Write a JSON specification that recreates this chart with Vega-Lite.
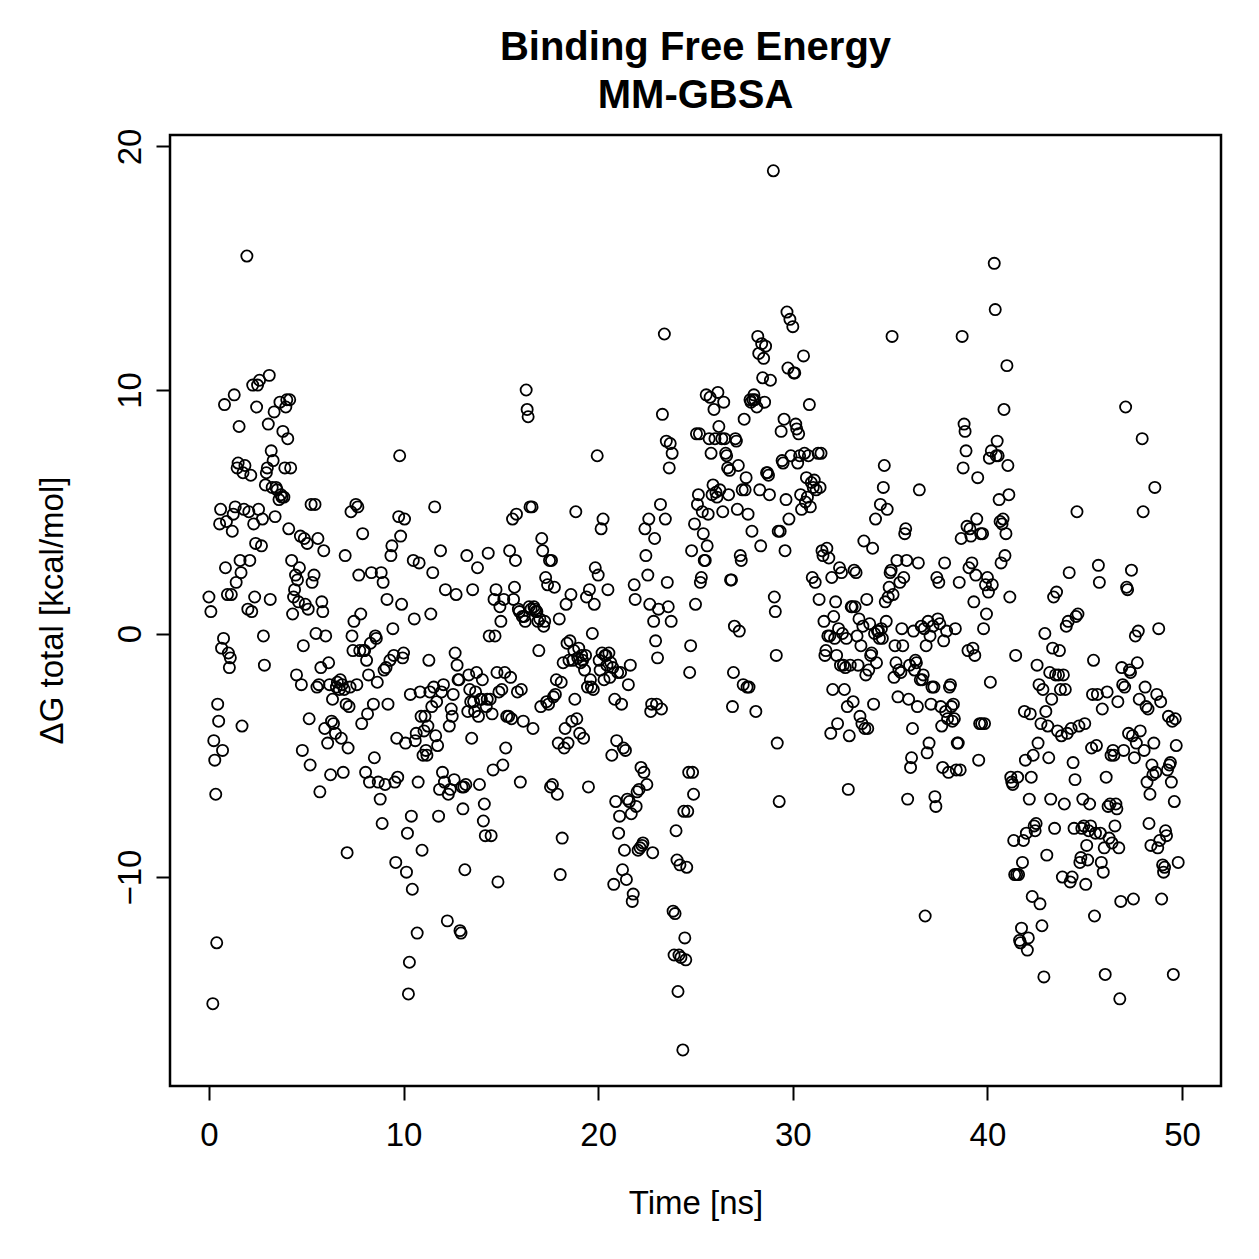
{
"$schema":"https://vega.github.io/schema/vega-lite/v6.json",
"width":1051,"height":951,
"autosize":{"type":"none"},
"padding":{"left":170,"top":135,"right":38,"bottom":173},
"background":"white",
"title":{"text":["Binding Free Energy","MM-GBSA"],"fontSize":40,"fontWeight":"bold","font":"Liberation Sans","color":"black","anchor":"middle","lineHeight":48,"offset":12},
"config":{"view":{"stroke":"black","strokeWidth":2.5},
"axis":{"domain":false,"grid":false,"tickColor":"black","tickWidth":2,"tickSize":14,"labelFont":"Liberation Sans","labelFontSize":33,"labelColor":"black","titleFont":"Liberation Sans","titleFontSize":33,"titleFontWeight":"normal","titleColor":"black"}},
"data":{"values":[
{"t":0.0,"g":1.5},{"t":0.1,"g":0.9},{"t":0.2,"g":-15.2},{"t":0.25,"g":-4.4},{"t":0.3,"g":-5.2},{"t":0.35,"g":-6.6},{"t":0.4,"g":-12.7},{"t":0.45,"g":-2.9},{"t":0.5,"g":-3.6},{"t":0.55,"g":4.5},{"t":0.6,"g":5.1},{"t":0.65,"g":-0.6},{"t":0.7,"g":-4.8},{"t":0.75,"g":-0.2},{"t":0.8,"g":9.4},{"t":0.85,"g":2.7},{"t":0.9,"g":4.6},{"t":0.95,"g":1.6},{"t":1.0,"g":-0.8},{"t":1.05,"g":-1.4},{"t":1.1,"g":-1.0},{"t":1.15,"g":1.6},{"t":1.2,"g":4.2},{"t":1.25,"g":4.9},{"t":1.3,"g":9.8},{"t":1.35,"g":5.2},{"t":1.4,"g":2.1},{"t":1.45,"g":6.8},{"t":1.5,"g":7.0},{"t":1.55,"g":8.5},{"t":1.6,"g":3.0},{"t":1.65,"g":2.5},{"t":1.7,"g":-3.8},{"t":1.75,"g":6.6},{"t":1.8,"g":5.1},{"t":1.85,"g":6.9},{"t":1.95,"g":15.5},{"t":2.0,"g":1.0},{"t":2.05,"g":5.0},{"t":2.1,"g":3.0},{"t":2.15,"g":6.5},{"t":2.2,"g":0.9},{"t":2.25,"g":10.2},{"t":2.3,"g":4.5},{"t":2.35,"g":1.5},{"t":2.4,"g":3.7},{"t":2.45,"g":9.3},{"t":2.5,"g":10.2},{"t":2.55,"g":5.1},{"t":2.6,"g":10.4},{"t":2.7,"g":3.6},{"t":2.75,"g":4.7},{"t":2.8,"g":-0.1},{"t":2.85,"g":-1.3},{"t":2.9,"g":6.1},{"t":2.95,"g":6.6},{"t":3.0,"g":6.8},{"t":3.05,"g":8.6},{"t":3.1,"g":10.6},{"t":3.15,"g":1.4},{"t":3.2,"g":7.5},{"t":3.25,"g":6.0},{"t":3.3,"g":7.1},{"t":3.35,"g":9.1},{"t":3.4,"g":4.8},{"t":3.45,"g":6.0},{"t":3.5,"g":5.9},{"t":3.6,"g":5.5},{"t":3.65,"g":9.5},{"t":3.7,"g":5.7},{"t":3.75,"g":5.6},{"t":3.8,"g":8.3},{"t":3.85,"g":5.6},{"t":3.9,"g":6.8},{"t":3.95,"g":9.3},{"t":4.0,"g":9.6},{"t":4.05,"g":8.0},{"t":4.1,"g":4.3},{"t":4.15,"g":9.6},{"t":4.2,"g":6.8},{"t":4.25,"g":3.0},{"t":4.3,"g":0.8},{"t":4.35,"g":1.5},{"t":4.4,"g":1.8},{"t":4.45,"g":2.4},{"t":4.5,"g":-1.7},{"t":4.55,"g":2.2},{"t":4.6,"g":1.3},{"t":4.65,"g":2.7},{"t":4.7,"g":4.0},{"t":4.75,"g":-2.1},{"t":4.8,"g":-4.8},{"t":4.85,"g":-0.5},{"t":4.9,"g":3.9},{"t":4.95,"g":1.2},{"t":5.05,"g":3.7},{"t":5.1,"g":1.0},{"t":5.15,"g":-3.5},{"t":5.2,"g":-5.4},{"t":5.25,"g":5.3},{"t":5.3,"g":2.1},{"t":5.4,"g":2.4},{"t":5.45,"g":5.3},{"t":5.5,"g":0.0},{"t":5.55,"g":-2.2},{"t":5.6,"g":3.9},{"t":5.65,"g":-2.1},{"t":5.7,"g":-6.5},{"t":5.75,"g":-1.4},{"t":5.8,"g":1.3},{"t":5.85,"g":0.9},{"t":5.9,"g":3.4},{"t":5.95,"g":-3.9},{"t":6.0,"g":-0.1},{"t":6.1,"g":-4.5},{"t":6.15,"g":-1.2},{"t":6.2,"g":-2.1},{"t":6.25,"g":-5.8},{"t":6.3,"g":-3.6},{"t":6.35,"g":-2.7},{"t":6.4,"g":-3.7},{"t":6.5,"g":-4.1},{"t":6.55,"g":-2.2},{"t":6.6,"g":-2.0},{"t":6.7,"g":-2.3},{"t":6.75,"g":-1.9},{"t":6.8,"g":-4.3},{"t":6.85,"g":-2.1},{"t":6.9,"g":-5.7},{"t":6.95,"g":-2.3},{"t":7.0,"g":3.2},{"t":7.05,"g":-2.9},{"t":7.1,"g":-9.0},{"t":7.15,"g":-4.7},{"t":7.2,"g":-3.0},{"t":7.25,"g":-2.2},{"t":7.3,"g":5.0},{"t":7.35,"g":-0.1},{"t":7.4,"g":-0.7},{"t":7.45,"g":0.5},{"t":7.55,"g":5.3},{"t":7.6,"g":-2.1},{"t":7.65,"g":5.2},{"t":7.7,"g":2.4},{"t":7.75,"g":-0.7},{"t":7.8,"g":0.8},{"t":7.85,"g":-3.7},{"t":7.9,"g":4.1},{"t":7.95,"g":-0.7},{"t":8.0,"g":-0.7},{"t":8.05,"g":-5.7},{"t":8.1,"g":-1.1},{"t":8.15,"g":-3.3},{"t":8.2,"g":-1.7},{"t":8.25,"g":-6.1},{"t":8.3,"g":-0.4},{"t":8.35,"g":2.5},{"t":8.45,"g":-2.9},{"t":8.5,"g":-5.1},{"t":8.55,"g":-0.1},{"t":8.6,"g":-0.2},{"t":8.65,"g":-2.0},{"t":8.7,"g":-6.1},{"t":8.8,"g":-6.8},{"t":8.85,"g":2.5},{"t":8.9,"g":-7.8},{"t":8.95,"g":2.1},{"t":9.0,"g":-1.5},{"t":9.05,"g":-6.2},{"t":9.1,"g":-1.4},{"t":9.15,"g":1.4},{"t":9.2,"g":-2.9},{"t":9.3,"g":-1.1},{"t":9.35,"g":3.2},{"t":9.4,"g":3.6},{"t":9.45,"g":0.2},{"t":9.5,"g":-0.9},{"t":9.55,"g":-6.1},{"t":9.6,"g":-9.4},{"t":9.65,"g":-4.3},{"t":9.7,"g":-5.9},{"t":9.75,"g":4.8},{"t":9.8,"g":7.3},{"t":9.85,"g":4.0},{"t":9.9,"g":1.2},{"t":9.95,"g":-1.0},{"t":10.0,"g":-0.8},{"t":10.05,"g":4.7},{"t":10.1,"g":-4.5},{"t":10.15,"g":-9.8},{"t":10.2,"g":-8.2},{"t":10.25,"g":-14.8},{"t":10.3,"g":-13.5},{"t":10.35,"g":-2.5},{"t":10.4,"g":-7.5},{"t":10.45,"g":-10.5},{"t":10.5,"g":3.0},{"t":10.55,"g":0.6},{"t":10.6,"g":-4.4},{"t":10.65,"g":-4.1},{"t":10.7,"g":-12.3},{"t":10.75,"g":-6.1},{"t":10.8,"g":2.9},{"t":10.85,"g":-2.4},{"t":10.9,"g":-3.4},{"t":10.95,"g":-8.9},{"t":11.0,"g":-5.0},{"t":11.05,"g":-4.0},{"t":11.1,"g":-3.4},{"t":11.15,"g":-4.8},{"t":11.2,"g":-5.0},{"t":11.25,"g":-3.8},{"t":11.3,"g":-1.1},{"t":11.35,"g":-2.4},{"t":11.4,"g":0.8},{"t":11.45,"g":-3.0},{"t":11.5,"g":2.5},{"t":11.55,"g":-2.2},{"t":11.6,"g":5.2},{"t":11.65,"g":-4.2},{"t":11.7,"g":-2.8},{"t":11.75,"g":-4.6},{"t":11.8,"g":-7.5},{"t":11.85,"g":-6.4},{"t":11.9,"g":3.4},{"t":11.95,"g":-2.4},{"t":12.0,"g":-5.7},{"t":12.05,"g":-2.1},{"t":12.1,"g":-6.1},{"t":12.15,"g":1.8},{"t":12.25,"g":-11.8},{"t":12.3,"g":-6.6},{"t":12.35,"g":-3.8},{"t":12.4,"g":-6.4},{"t":12.45,"g":-3.1},{"t":12.5,"g":-3.4},{"t":12.55,"g":-2.5},{"t":12.6,"g":-6.0},{"t":12.65,"g":-0.8},{"t":12.7,"g":1.6},{"t":12.75,"g":-1.3},{"t":12.8,"g":-1.9},{"t":12.85,"g":-1.9},{"t":12.9,"g":-12.2},{"t":12.95,"g":-12.3},{"t":13.0,"g":-6.3},{"t":13.05,"g":-7.2},{"t":13.1,"g":-6.3},{"t":13.15,"g":-9.7},{"t":13.2,"g":-6.2},{"t":13.25,"g":3.2},{"t":13.3,"g":-3.2},{"t":13.35,"g":-1.7},{"t":13.4,"g":-2.3},{"t":13.45,"g":-2.8},{"t":13.5,"g":-4.3},{"t":13.55,"g":1.8},{"t":13.6,"g":-2.8},{"t":13.65,"g":-3.2},{"t":13.7,"g":-2.4},{"t":13.75,"g":-1.6},{"t":13.8,"g":2.7},{"t":13.85,"g":-3.4},{"t":13.9,"g":-6.2},{"t":13.95,"g":-2.7},{"t":14.0,"g":-2.7},{"t":14.05,"g":-1.9},{"t":14.1,"g":-7.7},{"t":14.15,"g":-7.0},{"t":14.2,"g":-8.3},{"t":14.25,"g":-3.0},{"t":14.3,"g":-2.7},{"t":14.35,"g":3.3},{"t":14.4,"g":-0.1},{"t":14.45,"g":-2.7},{"t":14.5,"g":-8.3},{"t":14.55,"g":-3.3},{"t":14.6,"g":-5.6},{"t":14.65,"g":1.4},{"t":14.7,"g":-0.1},{"t":14.75,"g":1.8},{"t":14.8,"g":-1.6},{"t":14.85,"g":-10.2},{"t":14.9,"g":-2.4},{"t":14.95,"g":1.1},{"t":15.0,"g":0.5},{"t":15.05,"g":-2.3},{"t":15.1,"g":-5.4},{"t":15.15,"g":1.4},{"t":15.2,"g":-1.6},{"t":15.25,"g":-4.7},{"t":15.3,"g":-3.4},{"t":15.4,"g":-3.4},{"t":15.45,"g":3.4},{"t":15.5,"g":-1.8},{"t":15.55,"g":-3.5},{"t":15.6,"g":4.7},{"t":15.65,"g":1.4},{"t":15.7,"g":1.9},{"t":15.75,"g":3.0},{"t":15.8,"g":4.9},{"t":15.85,"g":-2.4},{"t":15.9,"g":1.0},{"t":15.95,"g":0.9},{"t":16.0,"g":-6.1},{"t":16.05,"g":-2.3},{"t":16.1,"g":0.7},{"t":16.15,"g":-3.6},{"t":16.2,"g":0.7},{"t":16.25,"g":0.5},{"t":16.3,"g":10.0},{"t":16.35,"g":9.2},{"t":16.4,"g":8.9},{"t":16.45,"g":1.1},{"t":16.5,"g":5.2},{"t":16.55,"g":1.0},{"t":16.6,"g":5.2},{"t":16.65,"g":-3.9},{"t":16.7,"g":1.1},{"t":16.75,"g":1.0},{"t":16.8,"g":0.9},{"t":16.85,"g":0.9},{"t":16.9,"g":0.5},{"t":16.95,"g":-0.7},{"t":17.0,"g":0.6},{"t":17.05,"g":-3.0},{"t":17.1,"g":3.9},{"t":17.15,"g":3.4},{"t":17.2,"g":0.3},{"t":17.25,"g":0.5},{"t":17.3,"g":2.3},{"t":17.35,"g":-2.8},{"t":17.4,"g":2.0},{"t":17.45,"g":-2.9},{"t":17.5,"g":3.0},{"t":17.55,"g":-6.3},{"t":17.6,"g":3.0},{"t":17.65,"g":-6.2},{"t":17.7,"g":-2.6},{"t":17.75,"g":1.9},{"t":17.8,"g":-2.5},{"t":17.85,"g":-1.9},{"t":17.9,"g":-6.6},{"t":17.95,"g":-4.5},{"t":18.0,"g":0.6},{"t":18.05,"g":-9.9},{"t":18.1,"g":-2.0},{"t":18.15,"g":-8.4},{"t":18.2,"g":-1.2},{"t":18.25,"g":-4.7},{"t":18.3,"g":-3.9},{"t":18.35,"g":1.2},{"t":18.4,"g":-0.4},{"t":18.45,"g":-4.5},{"t":18.5,"g":-1.1},{"t":18.55,"g":-0.3},{"t":18.6,"g":1.6},{"t":18.65,"g":-3.6},{"t":18.7,"g":-1.1},{"t":18.75,"g":-0.7},{"t":18.8,"g":-2.7},{"t":18.85,"g":5.0},{"t":18.9,"g":-3.5},{"t":18.95,"g":-1.0},{"t":19.0,"g":-0.6},{"t":19.05,"g":-4.1},{"t":19.1,"g":-1.2},{"t":19.15,"g":-0.9},{"t":19.2,"g":-1.1},{"t":19.25,"g":-4.3},{"t":19.3,"g":-1.5},{"t":19.35,"g":-0.9},{"t":19.4,"g":1.5},{"t":19.45,"g":-2.2},{"t":19.5,"g":-6.3},{"t":19.55,"g":1.8},{"t":19.6,"g":-1.9},{"t":19.65,"g":-2.2},{"t":19.7,"g":0.0},{"t":19.75,"g":-2.3},{"t":19.8,"g":1.2},{"t":19.85,"g":2.7},{"t":19.95,"g":7.3},{"t":20.0,"g":2.4},{"t":20.05,"g":-1.1},{"t":20.1,"g":-1.5},{"t":20.15,"g":4.3},{"t":20.2,"g":-0.8},{"t":20.25,"g":4.7},{"t":20.3,"g":-1.9},{"t":20.35,"g":-0.9},{"t":20.4,"g":-0.9},{"t":20.45,"g":-1.3},{"t":20.5,"g":1.8},{"t":20.55,"g":-0.8},{"t":20.6,"g":-1.8},{"t":20.65,"g":-1.2},{"t":20.7,"g":-5.0},{"t":20.75,"g":-1.4},{"t":20.8,"g":-10.3},{"t":20.85,"g":-2.7},{"t":20.9,"g":-6.9},{"t":20.95,"g":-4.4},{"t":21.0,"g":-1.6},{"t":21.05,"g":-8.2},{"t":21.1,"g":-7.5},{"t":21.15,"g":-1.6},{"t":21.2,"g":-2.9},{"t":21.25,"g":-9.7},{"t":21.3,"g":-4.7},{"t":21.35,"g":-8.9},{"t":21.4,"g":-4.8},{"t":21.45,"g":-10.1},{"t":21.5,"g":-6.8},{"t":21.55,"g":-2.1},{"t":21.6,"g":-6.9},{"t":21.65,"g":-1.3},{"t":21.7,"g":-7.4},{"t":21.75,"g":-11.0},{"t":21.8,"g":-10.7},{"t":21.85,"g":2.0},{"t":21.9,"g":1.4},{"t":21.95,"g":-7.1},{"t":22.0,"g":-6.5},{"t":22.05,"g":-8.9},{"t":22.1,"g":-6.4},{"t":22.15,"g":-8.8},{"t":22.2,"g":-5.5},{"t":22.25,"g":-8.7},{"t":22.3,"g":-8.6},{"t":22.35,"g":-5.7},{"t":22.4,"g":4.3},{"t":22.45,"g":3.2},{"t":22.5,"g":-6.2},{"t":22.55,"g":2.4},{"t":22.6,"g":4.7},{"t":22.65,"g":1.2},{"t":22.7,"g":-3.2},{"t":22.75,"g":-2.9},{"t":22.8,"g":-9.0},{"t":22.85,"g":0.5},{"t":22.9,"g":3.9},{"t":22.95,"g":-0.3},{"t":23.0,"g":-2.9},{"t":23.05,"g":-1.0},{"t":23.1,"g":1.0},{"t":23.2,"g":5.3},{"t":23.25,"g":-3.1},{"t":23.3,"g":9.0},{"t":23.4,"g":12.3},{"t":23.45,"g":4.7},{"t":23.5,"g":7.9},{"t":23.55,"g":2.1},{"t":23.6,"g":1.1},{"t":23.65,"g":6.8},{"t":23.7,"g":7.8},{"t":23.75,"g":0.5},{"t":23.8,"g":7.4},{"t":23.85,"g":-11.4},{"t":23.9,"g":-13.2},{"t":23.95,"g":-11.5},{"t":24.0,"g":-8.1},{"t":24.05,"g":-9.3},{"t":24.1,"g":-14.7},{"t":24.15,"g":-13.2},{"t":24.2,"g":-9.5},{"t":24.25,"g":-13.3},{"t":24.35,"g":-17.1},{"t":24.4,"g":-7.3},{"t":24.45,"g":-12.5},{"t":24.5,"g":-13.4},{"t":24.55,"g":-9.6},{"t":24.6,"g":-7.3},{"t":24.65,"g":-5.7},{"t":24.7,"g":-1.6},{"t":24.75,"g":-0.5},{"t":24.8,"g":3.4},{"t":24.85,"g":-5.7},{"t":24.9,"g":-6.6},{"t":24.95,"g":4.5},{"t":25.0,"g":1.2},{"t":25.05,"g":8.2},{"t":25.1,"g":5.3},{"t":25.15,"g":5.7},{"t":25.2,"g":8.2},{"t":25.25,"g":2.1},{"t":25.3,"g":2.3},{"t":25.35,"g":5.0},{"t":25.4,"g":4.1},{"t":25.45,"g":3.0},{"t":25.5,"g":3.0},{"t":25.55,"g":9.8},{"t":25.6,"g":3.6},{"t":25.65,"g":4.9},{"t":25.7,"g":8.0},{"t":25.75,"g":9.7},{"t":25.8,"g":7.4},{"t":25.85,"g":5.7},{"t":25.9,"g":6.1},{"t":25.95,"g":9.2},{"t":26.0,"g":8.0},{"t":26.05,"g":5.8},{"t":26.1,"g":5.6},{"t":26.15,"g":9.9},{"t":26.2,"g":8.5},{"t":26.25,"g":5.9},{"t":26.35,"g":8.0},{"t":26.4,"g":5.0},{"t":26.45,"g":9.5},{"t":26.5,"g":8.0},{"t":26.55,"g":7.4},{"t":26.6,"g":7.3},{"t":26.65,"g":6.8},{"t":26.7,"g":5.7},{"t":26.75,"g":6.7},{"t":26.8,"g":2.2},{"t":26.85,"g":2.2},{"t":26.9,"g":-3.0},{"t":26.95,"g":-1.6},{"t":27.0,"g":0.3},{"t":27.05,"g":8.0},{"t":27.1,"g":7.9},{"t":27.15,"g":5.1},{"t":27.2,"g":6.9},{"t":27.25,"g":0.1},{"t":27.3,"g":3.2},{"t":27.35,"g":3.0},{"t":27.4,"g":5.9},{"t":27.45,"g":-2.1},{"t":27.5,"g":8.8},{"t":27.55,"g":5.9},{"t":27.6,"g":6.4},{"t":27.65,"g":-2.2},{"t":27.7,"g":4.9},{"t":27.75,"g":-2.2},{"t":27.8,"g":9.6},{"t":27.85,"g":9.5},{"t":27.9,"g":4.2},{"t":27.95,"g":9.6},{"t":28.0,"g":9.8},{"t":28.05,"g":9.6},{"t":28.1,"g":-3.2},{"t":28.15,"g":9.3},{"t":28.2,"g":12.2},{"t":28.25,"g":11.5},{"t":28.3,"g":5.9},{"t":28.35,"g":3.6},{"t":28.4,"g":11.9},{"t":28.45,"g":10.5},{"t":28.5,"g":11.3},{"t":28.55,"g":9.5},{"t":28.6,"g":11.8},{"t":28.65,"g":6.6},{"t":28.7,"g":6.6},{"t":28.75,"g":6.5},{"t":28.8,"g":5.7},{"t":28.85,"g":10.4},{"t":29.0,"g":19.0},{"t":29.05,"g":1.5},{"t":29.1,"g":0.9},{"t":29.15,"g":-0.9},{"t":29.2,"g":-4.5},{"t":29.25,"g":4.2},{"t":29.3,"g":-6.9},{"t":29.35,"g":4.2},{"t":29.4,"g":8.3},{"t":29.45,"g":7.1},{"t":29.5,"g":7.0},{"t":29.55,"g":8.8},{"t":29.6,"g":3.4},{"t":29.65,"g":5.5},{"t":29.7,"g":13.2},{"t":29.75,"g":10.9},{"t":29.8,"g":4.7},{"t":29.85,"g":12.9},{"t":29.9,"g":7.3},{"t":30.0,"g":12.6},{"t":30.05,"g":10.7},{"t":30.1,"g":10.7},{"t":30.15,"g":8.6},{"t":30.2,"g":8.4},{"t":30.25,"g":7.0},{"t":30.3,"g":8.2},{"t":30.35,"g":7.3},{"t":30.4,"g":5.7},{"t":30.45,"g":5.1},{"t":30.55,"g":11.4},{"t":30.6,"g":7.4},{"t":30.65,"g":5.4},{"t":30.7,"g":6.4},{"t":30.75,"g":5.6},{"t":30.8,"g":7.3},{"t":30.85,"g":9.4},{"t":30.9,"g":5.2},{"t":30.95,"g":6.2},{"t":31.0,"g":2.3},{"t":31.05,"g":6.0},{"t":31.1,"g":6.3},{"t":31.15,"g":2.1},{"t":31.2,"g":5.9},{"t":31.3,"g":7.4},{"t":31.35,"g":1.4},{"t":31.4,"g":6.0},{"t":31.45,"g":7.4},{"t":31.5,"g":3.4},{"t":31.55,"g":3.2},{"t":31.6,"g":0.5},{"t":31.65,"g":-0.9},{"t":31.7,"g":-0.7},{"t":31.75,"g":3.5},{"t":31.8,"g":-0.1},{"t":31.85,"g":3.1},{"t":31.9,"g":-0.1},{"t":31.95,"g":-4.1},{"t":32.0,"g":2.3},{"t":32.05,"g":-2.3},{"t":32.1,"g":0.7},{"t":32.15,"g":-0.2},{"t":32.2,"g":1.3},{"t":32.25,"g":-0.9},{"t":32.3,"g":-3.7},{"t":32.35,"g":0.2},{"t":32.4,"g":2.7},{"t":32.45,"g":-1.3},{"t":32.5,"g":2.5},{"t":32.55,"g":0.0},{"t":32.6,"g":-1.3},{"t":32.65,"g":-2.3},{"t":32.7,"g":-1.4},{"t":32.75,"g":-0.2},{"t":32.8,"g":-3.0},{"t":32.85,"g":-6.4},{"t":32.9,"g":-4.2},{"t":32.95,"g":-1.3},{"t":33.0,"g":1.1},{"t":33.05,"g":1.1},{"t":33.1,"g":-2.8},{"t":33.15,"g":2.6},{"t":33.2,"g":1.1},{"t":33.25,"g":2.5},{"t":33.3,"g":-0.1},{"t":33.35,"g":-1.3},{"t":33.4,"g":0.6},{"t":33.45,"g":-3.4},{"t":33.5,"g":-0.5},{"t":33.55,"g":-3.7},{"t":33.6,"g":0.3},{"t":33.65,"g":3.8},{"t":33.7,"g":-3.9},{"t":33.75,"g":-1.7},{"t":33.8,"g":1.4},{"t":33.85,"g":-3.9},{"t":33.9,"g":-1.5},{"t":33.95,"g":0.4},{"t":34.0,"g":-0.9},{"t":34.05,"g":-0.8},{"t":34.1,"g":3.5},{"t":34.15,"g":-2.9},{"t":34.2,"g":0.0},{"t":34.25,"g":4.7},{"t":34.3,"g":-1.2},{"t":34.35,"g":0.1},{"t":34.4,"g":0.1},{"t":34.45,"g":-0.2},{"t":34.5,"g":5.3},{"t":34.55,"g":0.2},{"t":34.6,"g":-0.2},{"t":34.65,"g":6.0},{"t":34.7,"g":6.9},{"t":34.75,"g":1.3},{"t":34.8,"g":0.5},{"t":34.85,"g":5.1},{"t":34.9,"g":1.5},{"t":34.95,"g":1.9},{"t":35.0,"g":2.5},{"t":35.05,"g":2.6},{"t":35.1,"g":12.2},{"t":35.15,"g":1.6},{"t":35.2,"g":-1.8},{"t":35.25,"g":-0.5},{"t":35.3,"g":-1.2},{"t":35.35,"g":3.0},{"t":35.4,"g":-2.6},{"t":35.45,"g":-1.5},{"t":35.5,"g":2.1},{"t":35.55,"g":-1.6},{"t":35.6,"g":0.2},{"t":35.65,"g":-0.5},{"t":35.7,"g":2.3},{"t":35.75,"g":4.1},{"t":35.8,"g":4.3},{"t":35.85,"g":3.0},{"t":35.9,"g":-6.8},{"t":35.95,"g":-2.7},{"t":36.0,"g":-1.3},{"t":36.05,"g":-5.5},{"t":36.1,"g":-5.1},{"t":36.15,"g":-3.9},{"t":36.2,"g":0.1},{"t":36.25,"g":-1.5},{"t":36.3,"g":-1.1},{"t":36.35,"g":-1.2},{"t":36.4,"g":-3.0},{"t":36.45,"g":2.9},{"t":36.5,"g":5.9},{"t":36.55,"g":-1.9},{"t":36.6,"g":0.3},{"t":36.65,"g":-1.9},{"t":36.7,"g":-1.7},{"t":36.75,"g":0.2},{"t":36.8,"g":-11.6},{"t":36.85,"g":-0.5},{"t":36.9,"g":-4.9},{"t":36.95,"g":0.5},{"t":37.0,"g":-4.5},{"t":37.05,"g":-0.1},{"t":37.1,"g":-2.9},{"t":37.15,"g":-2.2},{"t":37.2,"g":0.3},{"t":37.25,"g":-2.2},{"t":37.3,"g":-6.7},{"t":37.35,"g":-7.1},{"t":37.4,"g":2.3},{"t":37.45,"g":0.6},{"t":37.5,"g":2.1},{"t":37.55,"g":0.4},{"t":37.6,"g":-3.0},{"t":37.65,"g":-3.8},{"t":37.7,"g":-5.5},{"t":37.75,"g":-0.3},{"t":37.8,"g":2.9},{"t":37.85,"g":-3.2},{"t":37.9,"g":0.1},{"t":37.95,"g":-3.5},{"t":38.0,"g":-5.7},{"t":38.05,"g":-2.2},{"t":38.1,"g":-2.1},{"t":38.15,"g":-3.0},{"t":38.2,"g":-3.6},{"t":38.25,"g":-2.9},{"t":38.3,"g":-3.5},{"t":38.35,"g":0.2},{"t":38.4,"g":-5.6},{"t":38.45,"g":-4.5},{"t":38.5,"g":-4.5},{"t":38.55,"g":2.1},{"t":38.6,"g":-5.6},{"t":38.65,"g":3.9},{"t":38.7,"g":12.2},{"t":38.75,"g":6.8},{"t":38.8,"g":8.6},{"t":38.85,"g":8.3},{"t":38.9,"g":7.5},{"t":38.95,"g":4.4},{"t":39.0,"g":-0.7},{"t":39.05,"g":2.7},{"t":39.1,"g":4.3},{"t":39.15,"g":4.0},{"t":39.2,"g":2.9},{"t":39.25,"g":-0.6},{"t":39.3,"g":1.3},{"t":39.35,"g":-0.9},{"t":39.4,"g":2.4},{"t":39.45,"g":4.7},{"t":39.5,"g":6.4},{"t":39.55,"g":-5.2},{"t":39.6,"g":-3.7},{"t":39.65,"g":4.1},{"t":39.7,"g":-3.7},{"t":39.75,"g":4.1},{"t":39.8,"g":0.2},{"t":39.85,"g":-3.7},{"t":39.9,"g":2.0},{"t":39.95,"g":0.8},{"t":40.0,"g":2.3},{"t":40.05,"g":1.7},{"t":40.1,"g":7.2},{"t":40.15,"g":-2.0},{"t":40.2,"g":7.5},{"t":40.25,"g":2.0},{"t":40.35,"g":15.2},{"t":40.4,"g":13.3},{"t":40.45,"g":7.3},{"t":40.5,"g":7.9},{"t":40.55,"g":7.3},{"t":40.6,"g":5.5},{"t":40.65,"g":4.6},{"t":40.7,"g":2.9},{"t":40.75,"g":4.5},{"t":40.8,"g":4.7},{"t":40.85,"g":9.2},{"t":40.9,"g":3.2},{"t":40.95,"g":4.1},{"t":41.0,"g":11.0},{"t":41.05,"g":6.9},{"t":41.1,"g":5.7},{"t":41.15,"g":1.5},{"t":41.2,"g":-5.9},{"t":41.25,"g":-6.1},{"t":41.3,"g":-6.2},{"t":41.35,"g":-8.5},{"t":41.4,"g":-9.9},{"t":41.45,"g":-0.9},{"t":41.5,"g":-9.9},{"t":41.55,"g":-5.9},{"t":41.6,"g":-9.9},{"t":41.65,"g":-12.6},{"t":41.7,"g":-12.7},{"t":41.75,"g":-12.1},{"t":41.8,"g":-9.4},{"t":41.85,"g":-8.5},{"t":41.9,"g":-3.2},{"t":41.95,"g":-5.2},{"t":42.0,"g":-8.2},{"t":42.05,"g":-13.0},{"t":42.1,"g":-12.5},{"t":42.15,"g":-6.8},{"t":42.2,"g":-3.3},{"t":42.25,"g":-5.9},{"t":42.3,"g":-10.8},{"t":42.35,"g":-5.0},{"t":42.4,"g":-7.9},{"t":42.45,"g":-8.1},{"t":42.5,"g":-7.8},{"t":42.55,"g":-1.3},{"t":42.6,"g":-4.5},{"t":42.65,"g":-2.1},{"t":42.7,"g":-11.1},{"t":42.75,"g":-3.7},{"t":42.8,"g":-12.0},{"t":42.85,"g":-2.3},{"t":42.9,"g":-14.1},{"t":42.95,"g":0.0},{"t":43.0,"g":-3.2},{"t":43.05,"g":-9.1},{"t":43.1,"g":-3.8},{"t":43.15,"g":-5.1},{"t":43.2,"g":-1.6},{"t":43.25,"g":-6.8},{"t":43.3,"g":-2.7},{"t":43.35,"g":-0.6},{"t":43.4,"g":1.5},{"t":43.45,"g":-8.0},{"t":43.5,"g":-1.7},{"t":43.55,"g":1.7},{"t":43.6,"g":-4.0},{"t":43.65,"g":-1.7},{"t":43.7,"g":-0.7},{"t":43.75,"g":-2.3},{"t":43.8,"g":-4.2},{"t":43.85,"g":-10.0},{"t":43.9,"g":-1.7},{"t":43.95,"g":-7.0},{"t":44.0,"g":-2.3},{"t":44.05,"g":0.3},{"t":44.1,"g":-4.1},{"t":44.15,"g":0.5},{"t":44.2,"g":2.5},{"t":44.25,"g":-10.2},{"t":44.3,"g":-3.9},{"t":44.35,"g":-10.0},{"t":44.4,"g":-5.3},{"t":44.45,"g":-8.0},{"t":44.5,"g":-6.0},{"t":44.55,"g":0.7},{"t":44.6,"g":5.0},{"t":44.65,"g":0.8},{"t":44.7,"g":-3.8},{"t":44.75,"g":-9.4},{"t":44.8,"g":-9.2},{"t":44.85,"g":-8.0},{"t":44.9,"g":-6.8},{"t":44.95,"g":-7.9},{"t":45.0,"g":-3.7},{"t":45.05,"g":-10.3},{"t":45.1,"g":-8.7},{"t":45.15,"g":-9.3},{"t":45.2,"g":-8.1},{"t":45.25,"g":-7.0},{"t":45.3,"g":-7.9},{"t":45.35,"g":-4.7},{"t":45.4,"g":-2.5},{"t":45.45,"g":-1.1},{"t":45.5,"g":-11.6},{"t":45.55,"g":-8.2},{"t":45.6,"g":-4.6},{"t":45.65,"g":-2.5},{"t":45.7,"g":2.8},{"t":45.75,"g":2.1},{"t":45.8,"g":-8.2},{"t":45.85,"g":-9.4},{"t":45.9,"g":-3.1},{"t":45.95,"g":-9.8},{"t":46.0,"g":-8.8},{"t":46.05,"g":-14.0},{"t":46.1,"g":-5.9},{"t":46.15,"g":-2.4},{"t":46.2,"g":-7.1},{"t":46.25,"g":-8.4},{"t":46.3,"g":-7.0},{"t":46.35,"g":-5.0},{"t":46.4,"g":-8.6},{"t":46.45,"g":-4.8},{"t":46.5,"g":-5.0},{"t":46.55,"g":-7.9},{"t":46.6,"g":-7.0},{"t":46.65,"g":-7.2},{"t":46.7,"g":-2.8},{"t":46.75,"g":-8.8},{"t":46.8,"g":-15.0},{"t":46.85,"g":-11.0},{"t":46.9,"g":-1.4},{"t":46.95,"g":-2.1},{"t":47.0,"g":-4.8},{"t":47.05,"g":-2.2},{"t":47.1,"g":9.3},{"t":47.15,"g":1.9},{"t":47.2,"g":1.8},{"t":47.25,"g":-4.1},{"t":47.3,"g":-1.5},{"t":47.35,"g":-1.6},{"t":47.4,"g":2.6},{"t":47.45,"g":-4.2},{"t":47.5,"g":-10.9},{"t":47.55,"g":-5.1},{"t":47.6,"g":-0.1},{"t":47.65,"g":-4.5},{"t":47.7,"g":-1.2},{"t":47.75,"g":0.1},{"t":47.8,"g":-2.7},{"t":47.85,"g":-4.0},{"t":47.95,"g":8.0},{"t":48.0,"g":5.0},{"t":48.05,"g":-4.8},{"t":48.1,"g":-2.2},{"t":48.15,"g":-3.0},{"t":48.2,"g":-6.1},{"t":48.25,"g":-3.1},{"t":48.3,"g":-7.8},{"t":48.35,"g":-6.6},{"t":48.4,"g":-8.7},{"t":48.45,"g":-5.4},{"t":48.5,"g":-5.8},{"t":48.55,"g":-4.5},{"t":48.6,"g":6.0},{"t":48.65,"g":-5.7},{"t":48.7,"g":-2.5},{"t":48.75,"g":-8.8},{"t":48.8,"g":0.2},{"t":48.85,"g":-8.5},{"t":48.9,"g":-2.8},{"t":48.95,"g":-10.9},{"t":49.0,"g":-9.5},{"t":49.05,"g":-9.8},{"t":49.1,"g":-9.6},{"t":49.15,"g":-8.1},{"t":49.2,"g":-8.3},{"t":49.25,"g":-5.6},{"t":49.3,"g":-3.4},{"t":49.35,"g":-5.4},{"t":49.4,"g":-5.3},{"t":49.45,"g":-6.1},{"t":49.5,"g":-3.6},{"t":49.55,"g":-14.0},{"t":49.6,"g":-6.9},{"t":49.65,"g":-3.5},{"t":49.7,"g":-4.6},{"t":49.8,"g":-9.4}
]},
"mark":{"type":"point","shape":"circle","filled":false,"size":125,"stroke":"black","strokeWidth":1.8,"opacity":1},
"encoding":{
"x":{"field":"t","type":"quantitative","scale":{"domain":[-2,52],"nice":false,"zero":false},"axis":{"values":[0,10,20,30,40,50],"title":"Time [ns]","labelPadding":19,"titleY":127,"titleBaseline":"alphabetic"}},
"y":{"field":"g","type":"quantitative","scale":{"domain":[-18.58,20.47],"nice":false,"zero":false},"axis":{"values":[-10,0,10,20],"title":"ΔG total [kcal/mol]","labelAngle":-90,"labelAlign":"center","labelBaseline":"alphabetic","labelPadding":16,"titleAngle":-90,"titleX":-108,"titleY":475,"titleAlign":"center","titleBaseline":"alphabetic"}}
}
}
